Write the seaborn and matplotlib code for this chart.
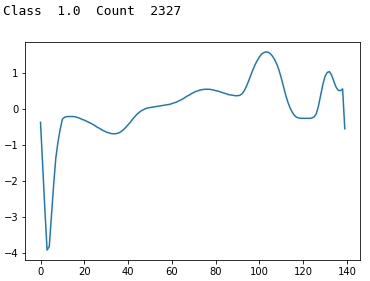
import numpy as np
import pandas as pd
import matplotlib
matplotlib.use("Agg")
import matplotlib.pyplot as plt
import seaborn as sns

title_text = "Class  1.0  Count  2327"

values = [
    -0.36, -1.60, -2.80, -3.92, -3.82, -2.95, -2.10, -1.35, -0.90, -0.55,
    -0.27, -0.22, -0.20, -0.20, -0.20, -0.20, -0.21, -0.23, -0.25, -0.28,
    -0.30, -0.33, -0.36, -0.39, -0.42, -0.46, -0.50, -0.53, -0.57, -0.60,
    -0.63, -0.65, -0.67, -0.68, -0.68, -0.67, -0.65, -0.61, -0.56, -0.50,
    -0.43, -0.36, -0.28, -0.21, -0.14, -0.09, -0.04, -0.01, 0.02, 0.04,
    0.05, 0.06, 0.07, 0.08, 0.09, 0.10, 0.11, 0.12, 0.13, 0.14,
    0.16, 0.18, 0.20, 0.23, 0.26, 0.29, 0.33, 0.37, 0.40, 0.44,
    0.47, 0.50, 0.52, 0.54, 0.55, 0.56, 0.56, 0.56, 0.55, 0.54,
    0.52, 0.51, 0.49, 0.47, 0.45, 0.43, 0.41, 0.40, 0.39, 0.38,
    0.38, 0.39, 0.43, 0.51, 0.63, 0.78, 0.94, 1.10, 1.24, 1.36,
    1.46, 1.54, 1.58, 1.60, 1.59, 1.55, 1.48, 1.38, 1.25, 1.08,
    0.87, 0.63, 0.40, 0.20, 0.04, -0.08, -0.17, -0.22, -0.24, -0.25,
    -0.25, -0.25, -0.25, -0.25, -0.24, -0.21, -0.12, 0.10, 0.40, 0.70,
    0.92, 1.03, 1.05, 0.95, 0.78, 0.62, 0.53, 0.52, 0.57, -0.54,
]

df = pd.DataFrame({"t": np.arange(len(values)), "v": values})

W, H, DPI = 370, 281, 72
fig = plt.figure(figsize=(W / DPI, H / DPI), dpi=DPI)
ax = fig.add_axes([25.3 / W, (H - 260) / H, (360 - 25.3) / W, (260 - 42) / H])

sns.lineplot(data=df, x="t", y="v", ax=ax, color="#1f77b4", linewidth=1.5)
ax.set_xlabel("")
ax.set_ylabel("")
ax.set_xticks([0, 20, 40, 60, 80, 100, 120, 140])
ax.set_yticks([-4, -3, -2, -1, 0, 1])
ax.tick_params(labelsize=10)

fig.text(3 / W, 1 - 5 / H, title_text, family="DejaVu Sans Mono",
         fontsize=12.9, ha="left", va="top", color="black")

fig.savefig("out.png", dpi=DPI)
